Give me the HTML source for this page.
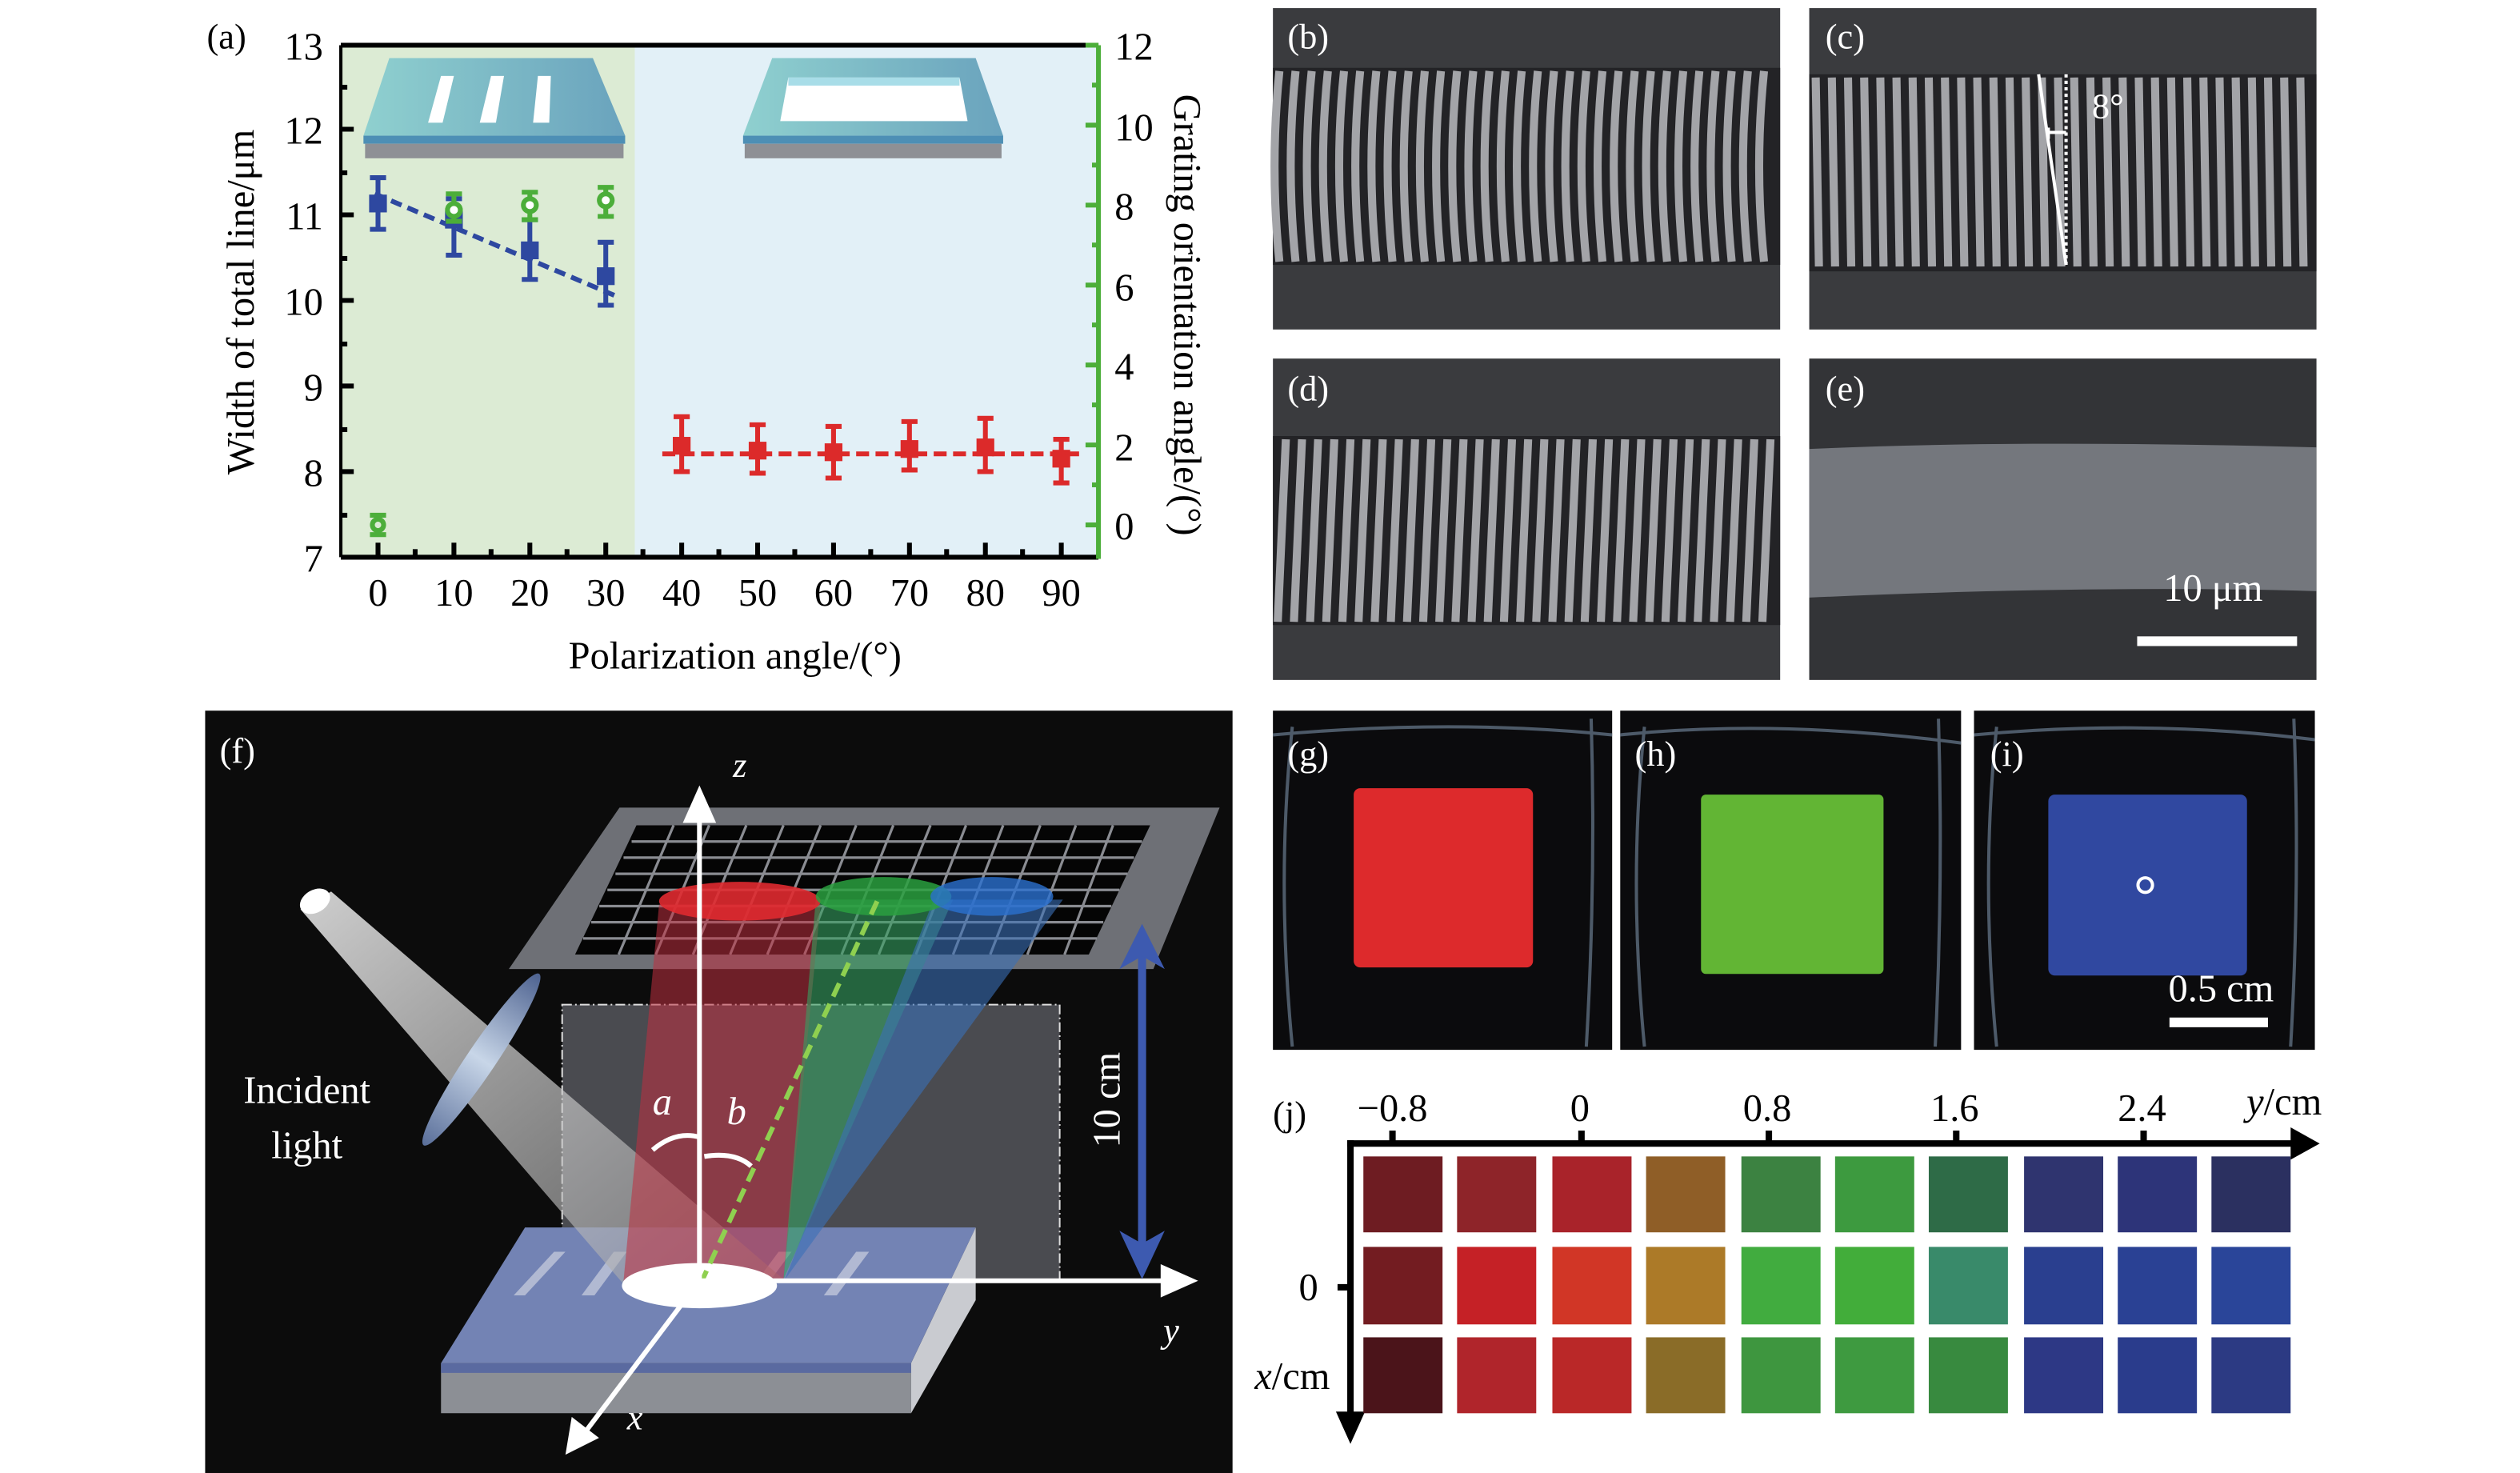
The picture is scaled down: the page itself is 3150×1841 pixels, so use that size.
<!DOCTYPE html>
<html><head><meta charset="utf-8"><style>html,body{margin:0;padding:0;background:#fff}svg{display:block}</style></head>
<body>
<svg xmlns="http://www.w3.org/2000/svg" width="3150" height="1841" viewBox="0 0 1560 912" preserveAspectRatio="none" font-family="Liberation Serif, serif">
<defs>
<linearGradient id="cone" x1="0" y1="0" x2="1" y2="1"><stop offset="0" stop-color="#ffffff"/><stop offset="1" stop-color="#9a9a9a" stop-opacity="0.7"/></linearGradient>
<linearGradient id="slabT" x1="0" y1="0" x2="1" y2="0"><stop offset="0" stop-color="#8fd0cf"/><stop offset="1" stop-color="#6aa3bd"/></linearGradient>
<linearGradient id="lens" x1="0" y1="0" x2="1" y2="0"><stop offset="0" stop-color="#5a6f9a"/><stop offset="0.5" stop-color="#c8d6e8"/><stop offset="1" stop-color="#4d6290"/></linearGradient>
</defs>
<rect width="1560" height="912" fill="#fff"/>

<!-- ============ Panel (a) ============ -->
<text x="128" y="30" font-size="22">(a)</text>
<rect x="211" y="28" width="182" height="317" fill="#dcebd4"/>
<rect x="393" y="28" width="287" height="317" fill="#e2f0f7"/>
<line x1="211" y1="28" x2="680" y2="28" stroke="#000" stroke-width="3"/>
<line x1="211" y1="345" x2="680" y2="345" stroke="#000" stroke-width="3"/>
<line x1="211" y1="28" x2="211" y2="345" stroke="#000" stroke-width="2"/>
<line x1="680" y1="28" x2="680" y2="346" stroke="#4cae3a" stroke-width="3"/>
<g stroke="#000" stroke-width="3">
<line x1="211" y1="80" x2="219" y2="80"/><line x1="211" y1="133" x2="219" y2="133"/><line x1="211" y1="186" x2="219" y2="186"/><line x1="211" y1="239" x2="219" y2="239"/><line x1="211" y1="292" x2="219" y2="292"/>
<line x1="211" y1="54" x2="215" y2="54"/><line x1="211" y1="107" x2="215" y2="107"/><line x1="211" y1="160" x2="215" y2="160"/><line x1="211" y1="213" x2="215" y2="213"/><line x1="211" y1="266" x2="215" y2="266"/><line x1="211" y1="319" x2="215" y2="319"/>
<line x1="234" y1="345" x2="234" y2="336"/><line x1="281" y1="345" x2="281" y2="336"/><line x1="328" y1="345" x2="328" y2="336"/><line x1="375" y1="345" x2="375" y2="336"/><line x1="422" y1="345" x2="422" y2="336"/><line x1="469" y1="345" x2="469" y2="336"/><line x1="516" y1="345" x2="516" y2="336"/><line x1="563" y1="345" x2="563" y2="336"/><line x1="610" y1="345" x2="610" y2="336"/><line x1="657" y1="345" x2="657" y2="336"/>
<line x1="257" y1="345" x2="257" y2="340"/><line x1="304" y1="345" x2="304" y2="340"/><line x1="351" y1="345" x2="351" y2="340"/><line x1="398" y1="345" x2="398" y2="340"/><line x1="445" y1="345" x2="445" y2="340"/><line x1="492" y1="345" x2="492" y2="340"/><line x1="539" y1="345" x2="539" y2="340"/><line x1="586" y1="345" x2="586" y2="340"/><line x1="633" y1="345" x2="633" y2="340"/>
</g>
<g stroke="#4cae3a" stroke-width="3">
<line x1="672" y1="28" x2="680" y2="28"/><line x1="672" y1="77.5" x2="680" y2="77.5"/><line x1="672" y1="127" x2="680" y2="127"/><line x1="672" y1="176.5" x2="680" y2="176.5"/><line x1="672" y1="226" x2="680" y2="226"/><line x1="672" y1="275.5" x2="680" y2="275.5"/><line x1="672" y1="325" x2="680" y2="325"/>
<line x1="676" y1="52.7" x2="680" y2="52.7"/><line x1="676" y1="102.2" x2="680" y2="102.2"/><line x1="676" y1="151.7" x2="680" y2="151.7"/><line x1="676" y1="201.2" x2="680" y2="201.2"/><line x1="676" y1="250.7" x2="680" y2="250.7"/><line x1="676" y1="300.2" x2="680" y2="300.2"/>
</g>
<g font-size="24" text-anchor="end">
<text x="200" y="37">13</text><text x="200" y="89">12</text><text x="200" y="142">11</text><text x="200" y="195">10</text><text x="200" y="248">9</text><text x="200" y="301">8</text><text x="200" y="354">7</text>
</g>
<g font-size="24">
<text x="690" y="37">12</text><text x="690" y="87">10</text><text x="690" y="136">8</text><text x="690" y="186">6</text><text x="690" y="235">4</text><text x="690" y="285">2</text><text x="690" y="334">0</text>
</g>
<g font-size="24" text-anchor="middle">
<text x="234" y="375">0</text><text x="281" y="375">10</text><text x="328" y="375">20</text><text x="375" y="375">30</text><text x="422" y="375">40</text><text x="469" y="375">50</text><text x="516" y="375">60</text><text x="563" y="375">70</text><text x="610" y="375">80</text><text x="657" y="375">90</text>
</g>
<text x="455" y="414" font-size="24" text-anchor="middle">Polarization angle/(°)</text>
<text transform="translate(157,187) rotate(-90)" font-size="24" text-anchor="middle">Width of total line/μm</text>
<text transform="translate(727,195) rotate(90)" font-size="24" text-anchor="middle">Grating orientation angle/(°)</text>
<!-- insets -->
<polygon points="241,36 367,36 387,84 225,84" fill="url(#slabT)"/>
<rect x="225" y="84" width="162" height="5" fill="#4d8fb5"/>
<rect x="226" y="89" width="160" height="9" fill="#8e9095"/>
<g fill="#fff"><polygon points="273,47 281,47 274,76 265,76"/><polygon points="304,47 312,47 307,76 297,76"/><polygon points="333,47 341,47 340,76 330,76"/></g>
<polygon points="478,36 604,36 621,84 460,84" fill="url(#slabT)"/>
<rect x="460" y="84" width="161" height="5" fill="#4d8fb5"/>
<rect x="461" y="89" width="159" height="9" fill="#8e9095"/>
<polygon points="488,48 594,48 599,75 483,75" fill="#fff"/>
<polygon points="488,48 594,48 594,53 488,53" fill="#a8dde8"/>
<!-- data -->
<line x1="232" y1="120" x2="383" y2="184" stroke="#2e48a0" stroke-width="3" stroke-dasharray="7,4"/>
<g stroke="#2e48a0" stroke-width="3" fill="#2e48a0">
<line x1="234" y1="110" x2="234" y2="142"/><line x1="229" y1="110" x2="239" y2="110"/><line x1="229" y1="142" x2="239" y2="142"/><rect x="230" y="122" width="8" height="8"/>
<line x1="281" y1="123" x2="281" y2="158"/><line x1="276" y1="123" x2="286" y2="123"/><line x1="276" y1="158" x2="286" y2="158"/><rect x="277" y="132" width="8" height="8"/>
<line x1="328" y1="136" x2="328" y2="173"/><line x1="323" y1="136" x2="333" y2="136"/><line x1="323" y1="173" x2="333" y2="173"/><rect x="324" y="151" width="8" height="8"/>
<line x1="375" y1="150" x2="375" y2="189"/><line x1="370" y1="150" x2="380" y2="150"/><line x1="370" y1="189" x2="380" y2="189"/><rect x="371" y="167" width="8" height="8"/>
</g>
<g stroke="#4cae3a" stroke-width="3" fill="none">
<line x1="229" y1="319" x2="239" y2="319"/><line x1="229" y1="331" x2="239" y2="331"/><circle cx="234" cy="325" r="3.5"/>
<line x1="281" y1="120" x2="281" y2="137"/><line x1="276" y1="120" x2="286" y2="120"/><line x1="276" y1="137" x2="286" y2="137"/><circle cx="281" cy="130" r="4" fill="#fff"/>
<line x1="328" y1="119" x2="328" y2="136"/><line x1="323" y1="119" x2="333" y2="119"/><line x1="323" y1="136" x2="333" y2="136"/><circle cx="328" cy="127" r="4" fill="#fff"/>
<line x1="375" y1="116" x2="375" y2="134"/><line x1="370" y1="116" x2="380" y2="116"/><line x1="370" y1="134" x2="380" y2="134"/><circle cx="375" cy="124" r="4" fill="#fff"/>
</g>
<line x1="410" y1="281" x2="668" y2="281" stroke="#dc2a2a" stroke-width="3" stroke-dasharray="8,4"/>
<g stroke="#dc2a2a" stroke-width="3" fill="#dc2a2a">
<line x1="422" y1="258" x2="422" y2="292"/><line x1="417" y1="258" x2="427" y2="258"/><line x1="417" y1="292" x2="427" y2="292"/><rect x="418" y="272" width="8" height="8"/>
<line x1="469" y1="263" x2="469" y2="293"/><line x1="464" y1="263" x2="474" y2="263"/><line x1="464" y1="293" x2="474" y2="293"/><rect x="465" y="275" width="8" height="8"/>
<line x1="516" y1="264" x2="516" y2="296"/><line x1="511" y1="264" x2="521" y2="264"/><line x1="511" y1="296" x2="521" y2="296"/><rect x="512" y="276" width="8" height="8"/>
<line x1="563" y1="261" x2="563" y2="291"/><line x1="558" y1="261" x2="568" y2="261"/><line x1="558" y1="291" x2="568" y2="291"/><rect x="559" y="274" width="8" height="8"/>
<line x1="610" y1="259" x2="610" y2="292"/><line x1="605" y1="259" x2="615" y2="259"/><line x1="605" y1="292" x2="615" y2="292"/><rect x="606" y="273" width="8" height="8"/>
<line x1="657" y1="272" x2="657" y2="299"/><line x1="652" y1="272" x2="662" y2="272"/><line x1="652" y1="299" x2="662" y2="299"/><rect x="653" y="280" width="8" height="8"/>
</g>

<!-- ============ SEM panels ============ -->
<g>
<rect x="788" y="5" width="314" height="199" fill="#3a3b3e"/>
<rect x="788" y="42" width="314" height="122" fill="#232326"/>
<g stroke="#a3a4a8" stroke-width="5" fill="none" id="bs">
<path d="M792,44 Q786,103 792,162"/><path d="M802,44 Q796,103 802,162"/><path d="M812,44 Q806,103 812,162"/><path d="M822,44 Q816,103 822,162"/><path d="M832,44 Q826,103 832,162"/><path d="M842,44 Q836,103 842,162"/><path d="M852,44 Q846,103 852,162"/><path d="M862,44 Q856,103 862,162"/><path d="M872,44 Q866,103 872,162"/><path d="M882,44 Q876,103 882,162"/><path d="M892,44 Q886,103 892,162"/><path d="M902,44 Q896,103 902,162"/><path d="M912,44 Q906,103 912,162"/><path d="M922,44 Q916,103 922,162"/><path d="M932,44 Q926,103 932,162"/><path d="M942,44 Q936,103 942,162"/><path d="M952,44 Q946,103 952,162"/><path d="M962,44 Q956,103 962,162"/><path d="M972,44 Q966,103 972,162"/><path d="M982,44 Q976,103 982,162"/><path d="M992,44 Q986,103 992,162"/><path d="M1002,44 Q996,103 1002,162"/><path d="M1012,44 Q1006,103 1012,162"/><path d="M1022,44 Q1016,103 1022,162"/><path d="M1032,44 Q1026,103 1032,162"/><path d="M1042,44 Q1036,103 1042,162"/><path d="M1052,44 Q1046,103 1052,162"/><path d="M1062,44 Q1056,103 1062,162"/><path d="M1072,44 Q1066,103 1072,162"/><path d="M1082,44 Q1076,103 1082,162"/><path d="M1092,44 Q1086,103 1092,162"/>
</g>
<text x="797" y="30" font-size="22" fill="#fff">(b)</text>
</g>
<g>
<rect x="1120" y="5" width="314" height="199" fill="#3a3b3e"/>
<rect x="1120" y="46" width="314" height="122" fill="#232326"/>
<g stroke="#a3a4a8" stroke-width="5" fill="none">
<path d="M1124,48 L1126,165"/><path d="M1134,48 L1136,165"/><path d="M1144,48 L1146,165"/><path d="M1154,48 L1156,165"/><path d="M1164,48 L1166,165"/><path d="M1174,48 L1176,165"/><path d="M1184,48 L1186,165"/><path d="M1194,48 L1196,165"/><path d="M1204,48 L1206,165"/><path d="M1214,48 L1216,165"/><path d="M1224,48 L1226,165"/><path d="M1234,48 L1236,165"/><path d="M1244,48 L1246,165"/><path d="M1254,48 L1256,165"/><path d="M1264,48 L1266,165"/><path d="M1274,48 L1276,165"/><path d="M1284,48 L1286,165"/><path d="M1294,48 L1296,165"/><path d="M1304,48 L1306,165"/><path d="M1314,48 L1316,165"/><path d="M1324,48 L1326,165"/><path d="M1334,48 L1336,165"/><path d="M1344,48 L1346,165"/><path d="M1354,48 L1356,165"/><path d="M1364,48 L1366,165"/><path d="M1374,48 L1376,165"/><path d="M1384,48 L1386,165"/><path d="M1394,48 L1396,165"/><path d="M1404,48 L1406,165"/><path d="M1414,48 L1416,165"/><path d="M1424,48 L1426,165"/>
</g>
<line x1="1262" y1="46" x2="1279" y2="164" stroke="#fff" stroke-width="2"/>
<line x1="1279" y1="46" x2="1279" y2="164" stroke="#fff" stroke-width="2" stroke-dasharray="2,2"/>
<path d="M1268,82 L1279,82 M1268,79 L1268,86" stroke="#fff" stroke-width="2"/>
<text x="1295" y="73" font-size="22" fill="#fff">8°</text>
<text x="1130" y="30" font-size="22" fill="#fff">(c)</text>
</g>
<g>
<rect x="788" y="222" width="314" height="199" fill="#3a3b3e"/>
<rect x="788" y="270" width="314" height="117" fill="#232326"/>
<g stroke="#a3a4a8" stroke-width="5" fill="none">
<path d="M796,272 L791,385"/><path d="M806,272 L801,385"/><path d="M816,272 L811,385"/><path d="M826,272 L821,385"/><path d="M836,272 L831,385"/><path d="M846,272 L841,385"/><path d="M856,272 L851,385"/><path d="M866,272 L861,385"/><path d="M876,272 L871,385"/><path d="M886,272 L881,385"/><path d="M896,272 L891,385"/><path d="M906,272 L901,385"/><path d="M916,272 L911,385"/><path d="M926,272 L921,385"/><path d="M936,272 L931,385"/><path d="M946,272 L941,385"/><path d="M956,272 L951,385"/><path d="M966,272 L961,385"/><path d="M976,272 L971,385"/><path d="M986,272 L981,385"/><path d="M996,272 L991,385"/><path d="M1006,272 L1001,385"/><path d="M1016,272 L1011,385"/><path d="M1026,272 L1021,385"/><path d="M1036,272 L1031,385"/><path d="M1046,272 L1041,385"/><path d="M1056,272 L1051,385"/><path d="M1066,272 L1061,385"/><path d="M1076,272 L1071,385"/><path d="M1086,272 L1081,385"/><path d="M1096,272 L1091,385"/>
</g>
<text x="797" y="248" font-size="22" fill="#fff">(d)</text>
</g>
<g>
<rect x="1120" y="222" width="314" height="199" fill="#333437"/>
<path d="M1120,278 Q1250,272 1434,277 L1434,366 Q1300,362 1120,370 Z" fill="#74777d"/>
<text x="1130" y="248" font-size="22" fill="#fff">(e)</text>
<text x="1370" y="372" font-size="24" fill="#fff" text-anchor="middle">10 μm</text>
<rect x="1323" y="394" width="99" height="6" fill="#fff"/>
</g>

<!-- ============ Panel (f) ============ -->
<rect x="127" y="440" width="636" height="472" fill="#0c0c0c"/>
<text x="136" y="472" font-size="22" fill="#fff">(f)</text>
<!-- screen -->
<polygon points="383.5,500 755,500 714,600 315,600" fill="#6e7076"/>
<polygon points="394,511 712,511 674,591 356,591" fill="#050505"/>
<g stroke="#8a8c92" stroke-width="1.6">
<line x1="391" y1="521" x2="707" y2="521"/><line x1="386" y1="531" x2="702" y2="531"/><line x1="381" y1="541" x2="698" y2="541"/><line x1="376" y1="551" x2="693" y2="551"/><line x1="371" y1="561" x2="688" y2="561"/><line x1="366" y1="571" x2="683" y2="571"/><line x1="361" y1="581" x2="679" y2="581"/>
<line x1="417" y1="511" x2="383" y2="591"/><line x1="439" y1="511" x2="406" y2="591"/><line x1="462" y1="511" x2="429" y2="591"/><line x1="485" y1="511" x2="452" y2="591"/><line x1="508" y1="511" x2="475" y2="591"/><line x1="530" y1="511" x2="498" y2="591"/><line x1="553" y1="511" x2="521" y2="591"/><line x1="576" y1="511" x2="544" y2="591"/><line x1="598" y1="511" x2="567" y2="591"/><line x1="621" y1="511" x2="590" y2="591"/><line x1="644" y1="511" x2="613" y2="591"/><line x1="666" y1="511" x2="636" y2="591"/><line x1="689" y1="511" x2="659" y2="591"/>
</g>
<!-- dash-dot box -->
<rect x="348" y="622" width="308" height="171" fill="#4a4b50" stroke="#ddd" stroke-width="1" stroke-dasharray="6,2,1,2"/>
<!-- sample slab -->
<polygon points="273,844 564,844 564,875 273,875" fill="#8c8f95"/>
<polygon points="564,844 604,760 604,805 564,875" fill="#c9cbd0"/>
<polygon points="325,760 604,760 564,844 273,844" fill="#7383b4"/>
<polygon points="273,844 564,844 564,850 273,850" fill="#5a6aa0"/>
<g fill="#b8bfd6" opacity="0.9">
<polygon points="318,802 343,775 350,775 325,802"/>
<polygon points="360,802 380,775 388,775 368,802"/>
<polygon points="462,802 482,775 490,775 470,802"/>
<polygon points="510,802 530,775 538,775 518,802"/>
</g>
<!-- incident cone -->
<polygon points="186,563 205,552 485,792 386,795" fill="url(#cone)" opacity="0.8"/>
<ellipse cx="195" cy="558" rx="10" ry="7" fill="#fff" transform="rotate(-30 195 558)"/>
<!-- beams -->
<polygon points="408,560 508,560 485,793 386,793" fill="#c03040" opacity="0.55"/>
<polygon points="505,557 590,557 485,792" fill="#35a060" opacity="0.6"/>
<polygon points="578,557 658,557 486,792" fill="#3a70b8" opacity="0.6"/>
<ellipse cx="458" cy="558" rx="50" ry="12" fill="#e02a30" opacity="0.9"/>
<ellipse cx="547" cy="555" rx="42" ry="12" fill="#2aa040" opacity="0.85"/>
<ellipse cx="614" cy="555" rx="38" ry="12" fill="#2a70d0" opacity="0.8"/>
<ellipse cx="433" cy="796" rx="48" ry="14" fill="#fff"/>
<line x1="543" y1="558" x2="435" y2="792" stroke="#8fd050" stroke-width="3" stroke-dasharray="9,5"/>
<!-- lens -->
<ellipse cx="298" cy="656" rx="64" ry="9" fill="url(#lens)" transform="rotate(-56 298 656)"/>
<!-- axes -->
<g stroke="#fff" stroke-width="3" fill="#fff">
<line x1="433" y1="793" x2="433" y2="505"/><polygon points="425,508 441,508 433,490"/>
<line x1="433" y1="793" x2="722" y2="793"/><polygon points="720,785 738,793 720,801"/>
<line x1="433" y1="793" x2="362" y2="887"/><polygon points="355,880 368,890 352,898"/>
</g>
<path d="M404,712 Q418,700 433,704" stroke="#fff" stroke-width="3" fill="none"/>
<path d="M436,716 Q455,713 465,722" stroke="#fff" stroke-width="3" fill="none"/>
<!-- blue double arrow -->
<line x1="707" y1="588" x2="707" y2="775" stroke="#3d5ab0" stroke-width="5"/>
<polygon points="693,600 707,572 721,600 707,592" fill="#3d5ab0"/>
<polygon points="693,762 707,792 721,762 707,770" fill="#3d5ab0"/>
<text transform="translate(693,681) rotate(-90)" font-size="24" fill="#fff" text-anchor="middle">10 cm</text>
<g fill="#fff" font-size="24" text-anchor="middle">
<text x="190" y="683">Incident</text><text x="190" y="717">light</text>
<text x="458" y="481" font-style="italic" font-size="22">z</text>
<text x="725" y="831" font-style="italic" font-size="22">y</text>
<text x="393" y="885" font-style="italic" font-size="22">x</text>
<text x="410" y="690" font-style="italic">a</text>
<text x="456" y="696" font-style="italic">b</text>
</g>

<!-- ============ Panels g h i ============ -->
<rect x="788" y="440" width="210" height="210" fill="#0b0b0d"/>
<rect x="1003" y="440" width="211" height="210" fill="#0b0b0d"/>
<rect x="1222" y="440" width="211" height="210" fill="#0b0b0d"/>
<g stroke="#6a7c90" stroke-width="2" opacity="0.7" fill="none">
<path d="M800,450 Q790,545 800,648"/><path d="M985,445 Q988,545 982,648"/>
<path d="M1018,450 Q1008,545 1018,648"/><path d="M1200,445 Q1203,545 1198,648"/>
<path d="M1236,450 Q1226,545 1236,648"/><path d="M1420,445 Q1424,545 1418,648"/>
<path d="M788,455 Q900,445 998,455"/><path d="M1003,455 Q1100,445 1214,460"/><path d="M1222,455 Q1330,445 1433,458"/>
</g>
<rect x="838" y="488" width="111" height="111" rx="4" fill="#dd2a2c"/>
<rect x="1053" y="492" width="113" height="111" rx="3" fill="#62b534"/>
<rect x="1268" y="492" width="123" height="112" rx="4" fill="#3048a0"/>
<circle cx="1328" cy="548" r="4.5" fill="none" stroke="#fff" stroke-width="2"/>
<g fill="#fff" font-size="22"><text x="797" y="474">(g)</text><text x="1012" y="474">(h)</text><text x="1232" y="474">(i)</text></g>
<text x="1375" y="620" font-size="24" fill="#fff" text-anchor="middle">0.5 cm</text>
<rect x="1343" y="630" width="61" height="6" fill="#fff"/>

<!-- ============ Panel (j) ============ -->
<text x="788" y="697" font-size="22">(j)</text>
<g font-size="24" text-anchor="middle">
<text x="862" y="694">−0.8</text><text x="978" y="694">0</text><text x="1094" y="694">0.8</text><text x="1210" y="694">1.6</text><text x="1326" y="694">2.4</text>
<text x="1414" y="690"><tspan font-style="italic">y</tspan>/cm</text>
<text x="810" y="805">0</text>
<text x="800" y="860"><tspan font-style="italic">x</tspan>/cm</text>
</g>
<g stroke="#000" stroke-width="4">
<line x1="834" y1="708" x2="1422" y2="708"/><line x1="836" y1="706" x2="836" y2="880"/>
<line x1="862" y1="700" x2="862" y2="708"/><line x1="979" y1="700" x2="979" y2="708"/><line x1="1095" y1="700" x2="1095" y2="708"/><line x1="1211" y1="700" x2="1211" y2="708"/><line x1="1327" y1="700" x2="1327" y2="708"/>
<line x1="828" y1="797" x2="836" y2="797"/>
</g>
<polygon points="1418,698 1436,708 1418,718" fill="#000"/>
<polygon points="827,874 836,894 845,874" fill="#000"/>
<g>
<rect x="844" y="716" width="49" height="47" fill="#6e1c22"/><rect x="902" y="716" width="49" height="47" fill="#8e2429"/><rect x="961" y="716" width="49" height="47" fill="#a9232a"/><rect x="1019" y="716" width="49" height="47" fill="#8f5e27"/><rect x="1078" y="716" width="49" height="47" fill="#3c8241"/><rect x="1136" y="716" width="49" height="47" fill="#3d9a3f"/><rect x="1194" y="716" width="49" height="47" fill="#2e6b47"/><rect x="1253" y="716" width="49" height="47" fill="#2f346f"/><rect x="1311" y="716" width="49" height="47" fill="#2d3479"/><rect x="1369" y="716" width="49" height="47" fill="#2b3060"/>
<rect x="844" y="772" width="49" height="48" fill="#731c21"/><rect x="902" y="772" width="49" height="48" fill="#c52126"/><rect x="961" y="772" width="49" height="48" fill="#d13626"/><rect x="1019" y="772" width="49" height="48" fill="#ac7a28"/><rect x="1078" y="772" width="49" height="48" fill="#41ac3f"/><rect x="1136" y="772" width="49" height="48" fill="#42ad3a"/><rect x="1194" y="772" width="49" height="48" fill="#398a6a"/><rect x="1253" y="772" width="49" height="48" fill="#2a3f8f"/><rect x="1311" y="772" width="49" height="48" fill="#2a4194"/><rect x="1369" y="772" width="49" height="48" fill="#2a4599"/>
<rect x="844" y="828" width="49" height="47" fill="#4b141a"/><rect x="902" y="828" width="49" height="47" fill="#b0252b"/><rect x="961" y="828" width="49" height="47" fill="#ba2828"/><rect x="1019" y="828" width="49" height="47" fill="#8a6c28"/><rect x="1078" y="828" width="49" height="47" fill="#3e963f"/><rect x="1136" y="828" width="49" height="47" fill="#3e9a40"/><rect x="1194" y="828" width="49" height="47" fill="#388a3f"/><rect x="1253" y="828" width="49" height="47" fill="#2d3885"/><rect x="1311" y="828" width="49" height="47" fill="#2a3c8c"/><rect x="1369" y="828" width="49" height="47" fill="#2c3a83"/>
</g>
</svg>
</body></html>
